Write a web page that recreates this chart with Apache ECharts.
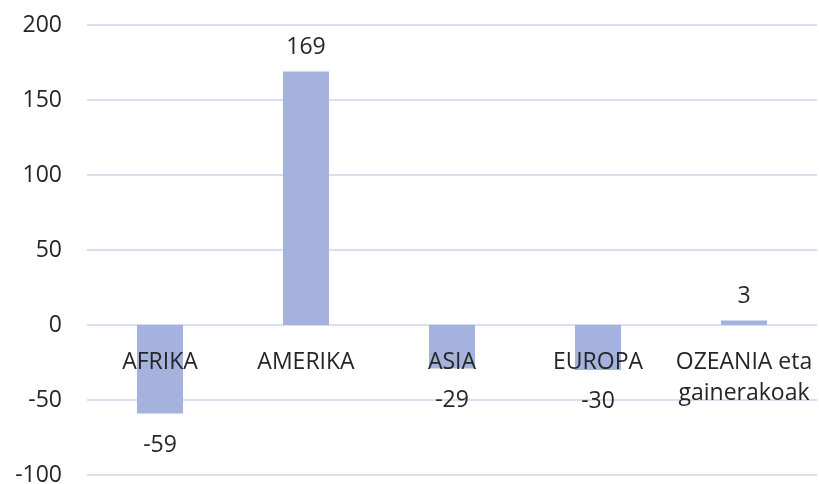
<!DOCTYPE html>
<html lang="eu">
<head>
    <meta charset="UTF-8">
    <title>chart</title>
    <script src="https://cdn.jsdelivr.net/npm/echarts@6/dist/echarts.min.js"></script>
    <style>
        html, body { margin: 0; padding: 0; background: #fff; }
        #chart1 { width: 819px; height: 484px; }
    </style>
</head>
<body>
<div id="chart1"></div>
<script type="text/javascript">
    var categories = ['AFRIKA', 'AMERIKA', 'ASIA', 'EUROPA', 'OZEANIA eta\ngainerakoak'];
    var values = [-59, 169, -29, -30, 3];
    var yTicks = { min: -100, max: 200, step: 50 };

    var textColor = '#262626';
    var gridColor = '#d9dff1';
    var fontSize = 23;

    // plot area: 25 .. 475 px, so the zero line sits 150 px above the bottom
    var plotTop = 25, plotBottom = 9, plotHeight = 484 - plotTop - plotBottom;
    var zeroOffset = plotHeight * (0 - yTicks.min) / (yTicks.max - yTicks.min);

    var myChart1 = echarts.init(document.getElementById('chart1'));
    myChart1.setOption({
        animation: false,
        textStyle: { fontFamily: 'Open Sans' },
        grid: { left: 87, right: 2, top: plotTop, bottom: plotBottom, containLabel: false, outerBoundsMode: 'none' },
        xAxis: {
            type: 'category',
            data: categories,
            z: 10,
            offset: -zeroOffset,
            axisLine: { show: false, onZero: false },
            axisTick: { show: false },
            axisLabel: {
                color: textColor,
                fontSize: fontSize,
                lineHeight: 31,
                margin: 22,
                interval: 0
            }
        },
        yAxis: {
            type: 'value',
            min: yTicks.min,
            max: yTicks.max,
            interval: yTicks.step,
            axisLine: { show: false },
            axisTick: { show: false },
            axisLabel: { color: textColor, fontSize: fontSize, margin: 25 },
            splitLine: { lineStyle: { color: gridColor, width: 2 } }
        },
        series: [{
            type: 'bar',
            barWidth: 46,
            itemStyle: { color: '#a5b2de' },
            data: values.map(function (v) {
                return {
                    value: v,
                    label: {
                        show: true,
                        position: v >= 0 ? 'top' : 'bottom',
                        distance: v >= 0 ? 13 : 20,
                        color: textColor,
                        fontSize: fontSize
                    }
                };
            })
        }]
    });
</script>
</body>
</html>
